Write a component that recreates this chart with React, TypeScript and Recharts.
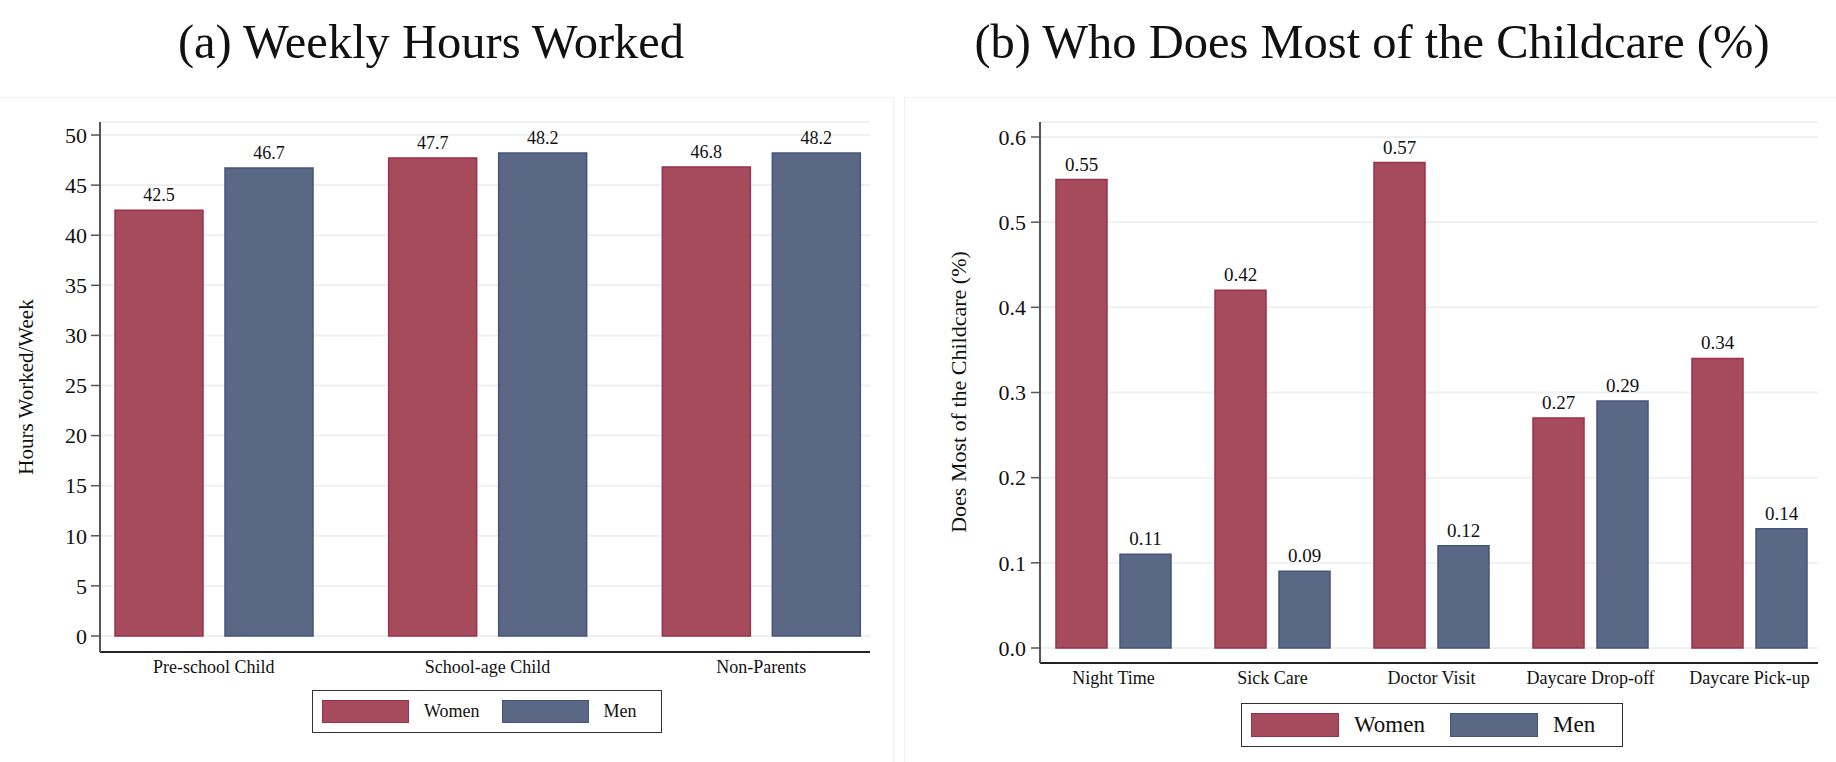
import React from 'react';
import { BarChart, Bar, XAxis, YAxis, CartesianGrid, LabelList } from 'recharts';

const hoursCategories = ['Pre-school Child', 'School-age Child', 'Non-Parents'];
const hoursWomen = [42.5, 47.7, 46.8];
const hoursMen = [46.7, 48.2, 48.2];
const hoursTicks = [0, 5, 10, 15, 20, 25, 30, 35, 40, 45, 50];

const careCategories = ['Night Time', 'Sick Care', 'Doctor Visit', 'Daycare Drop-off', 'Daycare Pick-up'];
const careWomen = [0.55, 0.42, 0.57, 0.27, 0.34];
const careMen = [0.11, 0.09, 0.12, 0.29, 0.14];
const careTicks = [0, 0.1, 0.2, 0.3, 0.4, 0.5, 0.6];

const seriesNames = ['Women', 'Men'];

const RED = '#a64b5c';
const RED_EDGE = '#9a3149';
const BLUE = '#5a6886';
const BLUE_EDGE = '#44547a';
const GRID = '#edf1f2';
const FONT = '"Liberation Serif", "Times New Roman", serif';

const hoursData = hoursCategories.map((name, i) => ({ name, women: hoursWomen[i], men: hoursMen[i] }));
const careData = careCategories.map((name, i) => ({ name, women: careWomen[i], men: careMen[i] }));

function Legend({ left, top, width, height, swatchW, swatchH, fontSize, gap }) {
  const colors = [[RED, RED_EDGE], [BLUE, BLUE_EDGE]];
  return (
    <div
      style={{
        position: 'absolute',
        left,
        top,
        width,
        height,
        boxSizing: 'border-box',
        border: '1.5px solid #333',
        display: 'flex',
        alignItems: 'center',
        paddingLeft: 9,
        fontFamily: FONT,
        fontSize,
        color: '#111',
      }}
    >
      {seriesNames.map((s, i) => (
        <div key={s} style={{ display: 'flex', alignItems: 'center', marginRight: i === 0 ? gap : 0 }}>
          <div
            style={{
              width: swatchW,
              height: swatchH,
              boxSizing: 'border-box',
              background: colors[i][0],
              border: `1.5px solid ${colors[i][1]}`,
              marginRight: 15,
            }}
          />
          <span>{s}</span>
        </div>
      ))}
    </div>
  );
}

const tickStyle = { fontFamily: FONT, fill: '#111' };

export default function App() {
  return (
    <div style={{ position: 'absolute', left: 0, top: 0, width: 1836, height: 762, background: '#fff', overflow: 'hidden' }}>
      {/* panel frames */}
      <div style={{ position: 'absolute', left: -2, top: 97, width: 894, height: 700, border: '1px solid #eff2f3' }} />
      <div style={{ position: 'absolute', left: 904, top: 97, width: 940, height: 700, border: '1px solid #eff2f3' }} />

      {/* titles */}
      <div style={{ position: 'absolute', left: 131, width: 600, top: 18, textAlign: 'center', fontFamily: FONT, fontSize: 48.5, lineHeight: '48px', color: '#111' }}>
        (a) Weekly Hours Worked
      </div>
      <div style={{ position: 'absolute', left: 922, width: 900, top: 18, textAlign: 'center', fontFamily: FONT, fontSize: 48.5, lineHeight: '48px', color: '#111' }}>
        (b) Who Does Most of the Childcare (%)
      </div>

      {/* left chart */}
      <div style={{ position: 'absolute', left: 0, top: 0 }}>
        <BarChart width={900} height={762} data={hoursData} margin={{ top: 122, right: 30, left: 10, bottom: 80 }} barGap={22} barSize={88}>
          <CartesianGrid horizontal vertical={false} stroke={GRID} strokeWidth={2} />
          <XAxis
            dataKey="name"
            height={30}
            padding={{ left: -23, right: -28 }}
            tickLine={false}
            axisLine={{ stroke: '#222', strokeWidth: 2 }}
            tick={{ ...tickStyle, fontSize: 18 }}
            interval={0}
          />
          <YAxis
            width={90}
            type="number"
            domain={[-1.6, 51.3]}
            allowDataOverflow
            ticks={hoursTicks}
            tickSize={9}
            tickMargin={4}
            axisLine={{ stroke: '#555', strokeWidth: 2 }}
            tickLine={{ stroke: '#555', strokeWidth: 1.5 }}
            tick={{ ...tickStyle, fontSize: 22 }}
            label={{
              content: () => (
                <text x={26} y={387} transform="rotate(-90 26 387)" textAnchor="middle" dominantBaseline="central" fontFamily={FONT} fontSize={21} fill="#111">
                  Hours Worked/Week
                </text>
              ),
            }}
          />
          <Bar dataKey="women" fill={RED} stroke={RED_EDGE} strokeWidth={1.5} isAnimationActive={false}>
            <LabelList dataKey="women" position="top" offset={9} formatter={(v) => Number(v).toFixed(1)} style={{ fontFamily: FONT, fontSize: 18, fill: '#111' }} />
          </Bar>
          <Bar dataKey="men" fill={BLUE} stroke={BLUE_EDGE} strokeWidth={1.5} isAnimationActive={false}>
            <LabelList dataKey="men" position="top" offset={9} formatter={(v) => Number(v).toFixed(1)} style={{ fontFamily: FONT, fontSize: 18, fill: '#111' }} />
          </Bar>
        </BarChart>
      </div>

      {/* right chart */}
      <div style={{ position: 'absolute', left: 900, top: 0 }}>
        <BarChart width={936} height={762} data={careData} margin={{ top: 122, right: 18, left: 40, bottom: 69 }} barGap={13} barSize={51}>
          <CartesianGrid horizontal vertical={false} stroke={GRID} strokeWidth={2} />
          <XAxis
            dataKey="name"
            height={30}
            padding={{ left: -6, right: -11 }}
            tickLine={false}
            axisLine={{ stroke: '#222', strokeWidth: 2 }}
            tick={{ ...tickStyle, fontSize: 18 }}
            interval={0}
          />
          <YAxis
            width={100}
            type="number"
            domain={[-0.0176, 0.6176]}
            allowDataOverflow
            ticks={careTicks}
            tickFormatter={(v) => Number(v).toFixed(1)}
            tickSize={9}
            tickMargin={5}
            axisLine={{ stroke: '#555', strokeWidth: 2 }}
            tickLine={{ stroke: '#555', strokeWidth: 1.5 }}
            tick={{ ...tickStyle, fontSize: 22 }}
            label={{
              content: () => (
                <text x={58} y={392} transform="rotate(-90 58 392)" textAnchor="middle" dominantBaseline="central" fontFamily={FONT} fontSize={22} fill="#111">
                  Does Most of the Childcare (%)
                </text>
              ),
            }}
          />
          <Bar dataKey="women" fill={RED} stroke={RED_EDGE} strokeWidth={1.5} isAnimationActive={false}>
            <LabelList dataKey="women" position="top" offset={9} formatter={(v) => Number(v).toFixed(2)} style={{ fontFamily: FONT, fontSize: 19, fill: '#111' }} />
          </Bar>
          <Bar dataKey="men" fill={BLUE} stroke={BLUE_EDGE} strokeWidth={1.5} isAnimationActive={false}>
            <LabelList dataKey="men" position="top" offset={9} formatter={(v) => Number(v).toFixed(2)} style={{ fontFamily: FONT, fontSize: 19, fill: '#111' }} />
          </Bar>
        </BarChart>
      </div>

      <Legend left={312} top={690} width={350} height={43} swatchW={87} swatchH={23} fontSize={18} gap={22} />
      <Legend left={1241} top={703} width={382} height={44} swatchW={88} swatchH={24} fontSize={23} gap={25} />
    </div>
  );
}
